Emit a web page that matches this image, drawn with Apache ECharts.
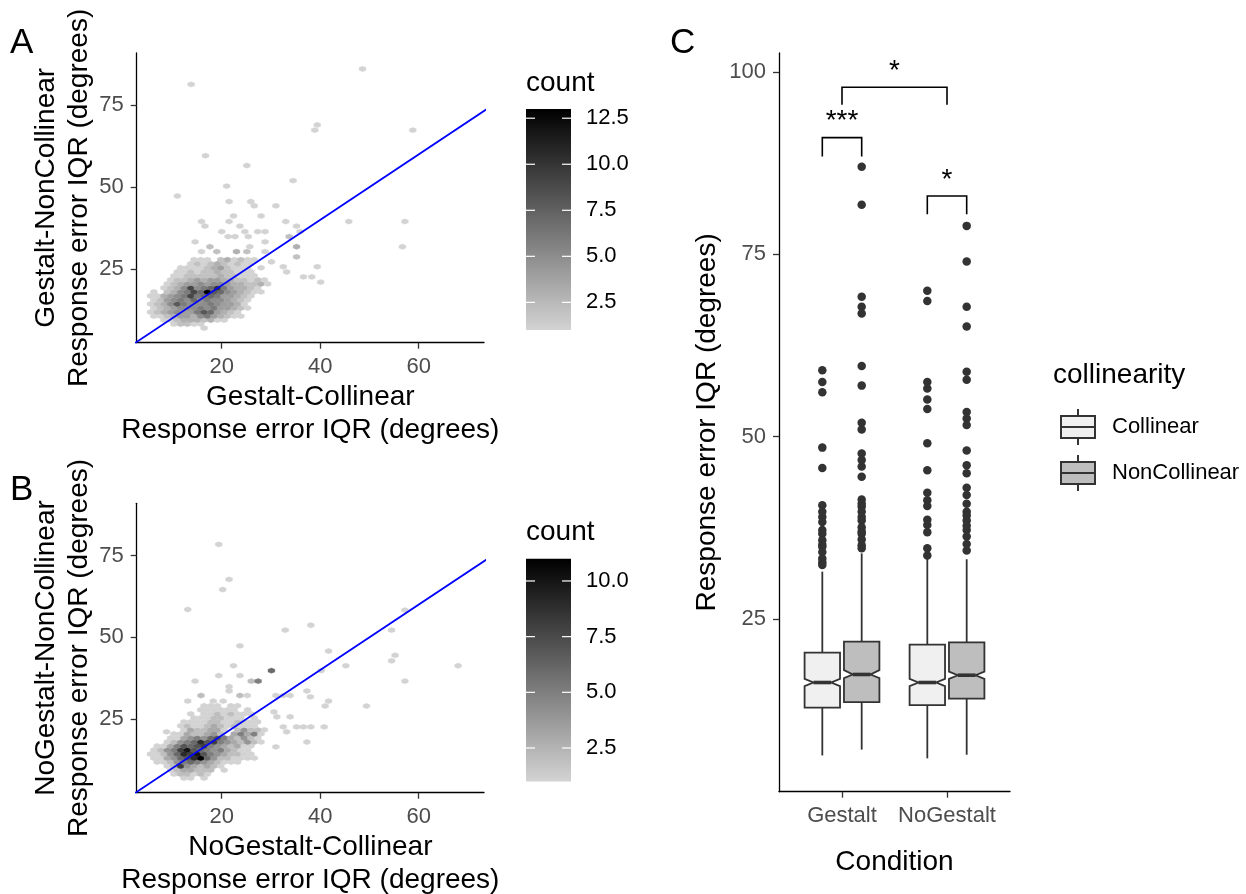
<!DOCTYPE html>
<html><head><meta charset="utf-8">
<script src="https://cdn.jsdelivr.net/npm/echarts@6/dist/echarts.min.js"></script>
<style>html,body{margin:0;padding:0;background:#fff}#c{width:1246px;height:894px}</style>
</head><body><div id="c"></div>
<script>
// ================= DATA =================
// hexbin geometry of the stat (data units)
const hexBinWidth = 1.38;
const hexRowStep = 1.23;

// Panel A: Gestalt-Collinear (x) vs Gestalt-NonCollinear (y)
const hexA_rowY = [6.93, 8.16, 9.39, 10.62, 11.85, 13.08, 14.31, 15.54, 16.77, 18.0, 19.23, 20.46, 21.69, 22.92, 24.15, 25.38, 26.61, 27.84];
const hexA_rowX0 = [16.42, 10.3, 8.26, 6.22, 5.54, 6.22, 5.54, 6.22, 5.54, 6.22, 8.26, 8.94, 9.62, 10.3, 10.98, 11.66, 13.7, 14.38];
const hexA_rowCounts = [
  [1],
  [1,2,2,1,1],
  [1,1,2,3,3,3,2,3,1,1],
  [1,1,2,3,4,4,3,5,6,4,3,2,1,1],
  [1,2,3,4,5,4,4,6,8,7,4,3,2,1],
  [1,2,3,4,5,5,5,6,5,6,4,4,3,2,1],
  [1,2,3,5,8,6,5,5,5,6,5,4,4,3,1],
  [1,2,4,5,6,5,7,5,6,5,5,4,3,2,1],
  [1,1,3,4,5,6,9,6,7,7,6,4,4,3,2,1],
  [1,0,2,3,5,6,9,7,13,8,7,5,4,3,2,1,1],
  [1,2,3,5,9,5,6,7,10,6,4,3,3,2,1],
  [1,2,3,4,4,5,4,5,5,4,3,3,2,2,3,1],
  [1,2,2,3,4,3,4,4,3,3,2,2,1,2,1],
  [1,1,2,2,2,2,2,3,2,2,1,1,1],
  [1,1,2,1,2,2,3,2,2,1,1,1],
  [1,1,1,1,2,3,4,2,1,1,1,0,1],
  [1,2,1,2,3,2,1,2,1,1],
  [1,1,1,0,2,3,1,2,1,1]
];
const hexA_single = [
  [13.8,81.4,1],[48.6,86.1,1],[38.9,67.4,1],[39.4,69.0,1],[58.8,67.4,1],[16.7,59.6,1],[25.1,56.6,1],
  [34.5,52.0,1],[21.0,50.3,1],[11.0,47.3,1],[21.5,45.6,1],[25.9,45.6,1],[26.6,44.3,1],[31.0,44.3,1],
  [22.4,41.2,1],[28.0,41.2,1],[15.9,39.5,1],[16.6,38.1,1],[21.5,39.5,1],[23.7,38.1,1],[33.0,39.5,1],
  [35.2,38.1,1],[45.8,39.5,1],[57.2,39.5,1],[20.0,36.4,1],[21.3,34.9,1],[22.7,34.9,1],[24.7,36.4,1],
  [25.4,34.9,1],[27.3,36.4,1],[28.8,36.4,1],[33.7,34.9,2],[35.9,36.4,1],[14.6,33.3,1],[28.8,33.3,1],
  [17.6,31.8,2],[19.0,30.3,2],[15.9,30.3,1],[23.0,30.3,3],[25.1,30.3,2],[25.7,31.8,1],[28.8,30.3,1],
  [35.2,31.8,3],[56.7,31.8,1],[35.2,28.7,2],[30.1,27.2,1],[32.5,25.7,1],[33.2,24.1,1],[36.6,22.6,1],
  [38.3,22.6,1],[39.4,25.7,1],[40.1,21.0,1]
];

// Panel B: NoGestalt-Collinear (x) vs NoGestalt-NonCollinear (y)
const hexB_rowY = [6.93, 8.16, 9.39, 10.62, 11.85, 13.08, 14.31, 15.54, 16.77, 18.0, 19.23, 20.46, 21.69, 22.92, 24.15, 25.38, 26.61, 27.84, 29.07];
const hexB_rowX0 = [12.34, 10.3, 9.62, 8.94, 6.9, 6.22, 5.54, 6.22, 6.9, 8.94, 9.62, 10.3, 12.34, 11.66, 12.34, 14.38, 13.7, 15.74, 16.42];
const hexB_rowCounts = [
  [1,1,0,1],
  [1,2,2,1,2,1],
  [1,2,3,3,2,2,2,0,1],
  [1,2,8,4,3,2,3,2,1],
  [1,1,2,4,5,6,5,4,3,2,1,1,1],
  [1,1,3,4,6,7,9,11,6,4,2,2,1,1,1,1],
  [1,1,2,4,6,9,8,10,7,5,4,3,2,2,1,1],
  [1,2,4,5,8,10,7,6,5,4,5,3,2,1,1],
  [1,1,3,5,7,6,7,8,5,4,3,2,3,1,1],
  [1,2,4,5,6,9,7,8,5,4,3,2,4,2,1],
  [1,1,3,4,5,4,6,7,5,3,2,4,2,1],
  [1,1,3,2,2,3,4,2,0,3,5,3,5,1],
  [1,3,2,2,3,3,1,0,2,4,2,2,1],
  [1,2,1,1,2,3,2,1,2,1,1,1],
  [1,1,1,1,2,2,1,1,2,1,1,1],
  [1,1,1,2,2,1,1,1,0,1],
  [1,0,1,1,2,1,2,1,1,1],
  [1,1,1,1,1,1,0,1],
  [1,1,1,0,1,1]
];
const hexB_single = [
  [19.4,78.4,1],[21.5,67.7,1],[20.2,64.6,1],[13.1,58.5,1],[57.2,58.3,1],[32.9,52.2,1],[38.1,53.7,1],
  [54.5,52.2,1],[23.7,47.4,1],[41.7,45.8,1],[55.2,44.5,1],[54.5,42.8,1],[68.0,41.3,1],[45.2,41.3,1],
  [57.2,36.6,1],[22.4,41.3,1],[19.4,38.3,1],[23.7,38.3,1],[30.1,39.8,6],[14.6,36.6,1],[21.5,34.9,1],
  [21.5,33.6,1],[26.0,36.6,2],[27.4,36.6,5],[40.2,39.8,1],[23.7,32.2,2],[25.2,32.2,1],[15.8,32.2,2],
  [13.1,30.5,1],[18.3,30.5,1],[20.3,30.5,1],[31.0,32.2,1],[32.5,32.2,1],[33.9,32.2,1],[37.3,33.6,1],
  [38.0,31.8,1],[41.7,30.5,1],[41.0,29.0,1],[49.4,29.0,1],[30.6,27.2,1],[31.2,25.7,1],[33.9,25.7,1],
  [32.5,22.6,1],[33.2,21.1,1],[35.2,22.6,1],[36.6,22.6,1],[38.1,22.6,1],[40.8,22.6,1],[37.3,18.0,1],
  [31.0,16.5,1],[8.8,21.1,1]
];

const scatterXTicks = [20, 40, 60];
const scatterYTicks = [25, 50, 75];
const identityLine = [0, 100];
const countRangeA = [1, 13];
const countRangeB = [1, 11];
const countTicksA = [2.5, 5, 7.5, 10, 12.5];
const countTicksB = [2.5, 5, 7.5, 10];

// Panel C: boxplots
const conditions = ['Gestalt', 'NoGestalt'];
const collinearity = ['Collinear', 'NonCollinear'];
// [lowerWhisker, Q1, median, Q3, upperWhisker, notchLow, notchHigh]
const boxCollinear = [
  [6.3, 12.85, 16.3, 20.4, 31.5, 15.8, 16.8],
  [5.9, 13.2, 16.3, 21.5, 33.3, 15.8, 16.8]
];
const boxNonCollinear = [
  [7.1, 13.6, 17.4, 21.9, 34.0, 16.9, 18.0],
  [6.4, 14.1, 17.3, 21.8, 33.2, 16.8, 17.8]
];
const outGestaltCollinear = [59.1, 57.5, 56.1, 48.5, 45.7, 40.6, 39.7, 39.0, 38.3, 37.2, 36.7, 35.8, 35.2, 34.9, 34.2, 33.3, 32.8, 32.4];
const outGestaltNonCollinear = [87.0, 81.8, 69.2, 67.8, 66.9, 59.7, 57.0, 51.9, 51.0, 47.7, 46.8, 45.9, 44.5, 41.4, 40.8, 40.4, 39.7, 39.0, 38.5, 37.6, 37.0, 36.7, 35.9, 35.1, 34.7];
const outNoGestaltCollinear = [70.0, 68.6, 57.5, 56.6, 55.1, 53.8, 49.1, 45.4, 42.3, 41.3, 40.5, 38.6, 37.9, 36.9, 34.7, 33.7];
const outNoGestaltNonCollinear = [78.9, 74.0, 67.8, 65.1, 58.9, 57.8, 53.4, 52.5, 51.6, 48.1, 46.1, 45.0, 43.0, 42.0, 40.8, 39.7, 39.2, 38.5, 37.8, 37.2, 36.3, 35.3, 34.4];
const boxYTicks = [25, 50, 75, 100];
// significance brackets
const sigX1 = [0.8125, 1.8125, 1];
const sigX2 = [1.1875, 2.1875, 2];
const sigY = [91.0, 83.0, 97.9];
const sigTickY = [88.4, 80.5, 95.5];
const sigLabel = ['***', '*', '*'];

// ================= BUILD =================
const FONT = '"Liberation Sans", Arial, Helvetica, sans-serif';
const LOW = '#d3d3d3', HIGH = '#000000';
const DODGE = 0.1875, BOX_HALF = 0.16875;
const FILL_C = '#f0f0f0', FILL_N = '#bebebe', INK = '#333333';

function buildHex(rowY, rowX0, rowCounts, singles) {
  const out = [];
  rowY.forEach((y, r) => rowCounts[r].forEach((c, i) => {
    if (c > 0) out.push([+(rowX0[r] + i * 1.36).toFixed(3), y, c]);
  }));
  singles.forEach(s => out.push(s));
  return out;
}
const hexA = buildHex(hexA_rowY, hexA_rowX0, hexA_rowCounts, hexA_single);
const hexB = buildHex(hexB_rowY, hexB_rowX0, hexB_rowCounts, hexB_single);

function hexRender(params, api) {
  const x = api.value(0), y = api.value(1);
  const hw = hexBinWidth / 2, dy = hexRowStep / 3;
  const pts = [[x + hw, y + dy], [x + hw, y - dy], [x, y - 2 * dy], [x - hw, y - dy], [x - hw, y + dy], [x, y + 2 * dy]].map(p => api.coord(p));
  const col = api.visual('color');
  return { type: 'polygon', shape: { points: pts }, style: { fill: col, stroke: col, lineWidth: 0.4 } };
}

function cbRender(range, ticks) {
  return function (params, api) {
    const p0 = api.coord([0, range[0]]), p1 = api.coord([1, range[1]]);
    const ch = [{
      type: 'rect', shape: { x: p0[0], y: p1[1], width: p1[0] - p0[0], height: p0[1] - p1[1] },
      style: { fill: new echarts.graphic.LinearGradient(0, 1, 0, 0, [{ offset: 0, color: LOW }, { offset: 1, color: HIGH }]) }
    }];
    ticks.forEach(t => {
      const a = api.coord([0, t]), b = api.coord([1, t]);
      const len = (b[0] - a[0]) / 5;
      ch.push({ type: 'line', shape: { x1: a[0], y1: a[1], x2: a[0] + len, y2: a[1] }, style: { stroke: '#fff', lineWidth: 1.2 } });
      ch.push({ type: 'line', shape: { x1: b[0] - len, y1: b[1], x2: b[0], y2: b[1] }, style: { stroke: '#fff', lineWidth: 1.2 } });
    });
    return { type: 'group', children: ch };
  };
}

function boxRender(offset) {
  return function (params, api) {
    const cat = api.value(0), lo = api.value(1), q1 = api.value(2), med = api.value(3),
      q3 = api.value(4), hi = api.value(5), nl = api.value(6), nh = api.value(7);
    const cx = cat + offset, hw = BOX_HALF, nw = hw * 0.5;
    const P = (x, y) => api.coord([x, y]);
    const fill = api.visual('color');
    const poly = [P(cx - hw, q3), P(cx + hw, q3), P(cx + hw, nh), P(cx + hw - nw, med), P(cx + hw, nl),
      P(cx + hw, q1), P(cx - hw, q1), P(cx - hw, nl), P(cx - hw + nw, med), P(cx - hw, nh)];
    const a = P(cx, hi), b = P(cx, q3), c = P(cx, q1), d = P(cx, lo);
    const m1 = P(cx - hw + nw, med), m2 = P(cx + hw - nw, med);
    return {
      type: 'group', children: [
        { type: 'line', shape: { x1: a[0], y1: a[1], x2: b[0], y2: b[1] }, style: { stroke: INK, lineWidth: 1.8 } },
        { type: 'line', shape: { x1: c[0], y1: c[1], x2: d[0], y2: d[1] }, style: { stroke: INK, lineWidth: 1.8 } },
        { type: 'polygon', shape: { points: poly }, style: { fill: fill, stroke: INK, lineWidth: 1.8, lineJoin: 'miter' } },
        { type: 'line', shape: { x1: m1[0], y1: m1[1], x2: m2[0], y2: m2[1] }, style: { stroke: INK, lineWidth: 3.6 } }
      ]
    };
  };
}

function sigRender(params, api) {
  const i = params.dataIndex;
  const P = (x, y) => api.coord([x, y]);
  const p1 = P(sigX1[i], sigTickY[i]), p2 = P(sigX1[i], sigY[i]), p3 = P(sigX2[i], sigY[i]), p4 = P(sigX2[i], sigTickY[i]);
  const mid = P((sigX1[i] + sigX2[i]) / 2, sigY[i]);
  return {
    type: 'group', children: [
      { type: 'polyline', shape: { points: [p1, p2, p3, p4] }, style: { stroke: '#000', lineWidth: 1.6, fill: null } },
      { type: 'text', x: mid[0], y: mid[1] - 16, style: { text: sigLabel[i], font: '28px ' + FONT, fill: '#000', align: 'center', verticalAlign: 'middle' } }
    ]
  };
}

const boxDataC = boxCollinear.map((s, i) => [i + 1].concat(s));
const boxDataN = boxNonCollinear.map((s, i) => [i + 1].concat(s));
const outC = outGestaltCollinear.map(v => [1 - DODGE, v]).concat(outNoGestaltCollinear.map(v => [2 - DODGE, v]));
const outN = outGestaltNonCollinear.map(v => [1 + DODGE, v]).concat(outNoGestaltNonCollinear.map(v => [2 + DODGE, v]));

const axisLineStyle = { lineStyle: { color: '#000', width: 1.3 } };
const tickStyle = (vals) => ({ show: true, customValues: vals, length: 6, lineStyle: { color: INK, width: 1.3 } });
const labelStyle = (vals, extra) => Object.assign({ customValues: vals, color: '#4d4d4d', fontSize: 22, fontFamily: FONT, margin: 13 }, extra || {});
const nameStyle = { fontSize: 28, color: '#000', fontFamily: FONT, lineHeight: 33 };

function scatterX(grid, name) {
  return { type: 'value', gridIndex: grid, min: 2.74, max: 73.26, axisLine: axisLineStyle, axisTick: tickStyle(scatterXTicks),
    axisLabel: labelStyle(scatterXTicks), splitLine: { show: false }, name: name, nameLocation: 'middle', nameGap: 38, nameTextStyle: nameStyle };
}
function scatterY(grid, name) {
  return { type: 'value', gridIndex: grid, min: 2.49, max: 90.97, axisLine: axisLineStyle, axisTick: tickStyle(scatterYTicks),
    axisLabel: labelStyle(scatterYTicks), splitLine: { show: false }, name: name, nameLocation: 'middle', nameGap: 41, nameTextStyle: nameStyle };
}
function cbX(grid) { return { type: 'value', gridIndex: grid, min: 0, max: 1, show: false }; }
function cbY(grid, range, ticks) {
  return { type: 'value', gridIndex: grid, min: range[0], max: range[1], position: 'right',
    axisLine: { show: false }, axisTick: { show: false }, splitLine: { show: false },
    axisLabel: { customValues: ticks, formatter: v => v.toFixed(1), color: '#000', fontSize: 22, fontFamily: FONT, margin: 15 } };
}

const option = {
  animation: false,
  backgroundColor: '#fff',
  textStyle: { fontFamily: FONT },
  grid: [
    { left: 136.7, top: 53, width: 347.3, height: 289.7, containLabel: false, outerBoundsMode: 'none' },
    { left: 526, top: 109, width: 45, height: 221, containLabel: false, outerBoundsMode: 'none' },
    { left: 136.7, top: 503.3, width: 347.3, height: 289.4, containLabel: false, outerBoundsMode: 'none' },
    { left: 526, top: 558.7, width: 45, height: 222.7, containLabel: false, outerBoundsMode: 'none' },
    { left: 779, top: 53, width: 231, height: 738.7, containLabel: false, outerBoundsMode: 'none' }
  ],
  xAxis: [
    scatterX(0, 'Gestalt-Collinear\nResponse error IQR (degrees)'),
    cbX(1),
    scatterX(2, 'NoGestalt-Collinear\nResponse error IQR (degrees)'),
    cbX(3),
    { type: 'value', gridIndex: 4, min: 0.4, max: 2.6, axisLine: axisLineStyle, axisTick: tickStyle([1, 2]),
      axisLabel: labelStyle([1, 2], { formatter: v => conditions[Math.round(v) - 1] }), splitLine: { show: false },
      name: 'Condition', nameLocation: 'middle', nameGap: 54, nameTextStyle: nameStyle }
  ],
  yAxis: [
    scatterY(0, 'Gestalt-NonCollinear\nResponse error IQR (degrees)'),
    cbY(1, countRangeA, countTicksA),
    scatterY(2, 'NoGestalt-NonCollinear\nResponse error IQR (degrees)'),
    cbY(3, countRangeB, countTicksB),
    { type: 'value', gridIndex: 4, min: 1.33, max: 102.6, axisLine: axisLineStyle, axisTick: tickStyle(boxYTicks),
      axisLabel: labelStyle(boxYTicks), splitLine: { show: false },
      name: 'Response error IQR (degrees)', nameLocation: 'middle', nameGap: 55, nameTextStyle: nameStyle }
  ],
  visualMap: [
    { type: 'continuous', show: false, seriesIndex: 0, dimension: 2, min: countRangeA[0], max: countRangeA[1], inRange: { color: [LOW, HIGH] } },
    { type: 'continuous', show: false, seriesIndex: 1, dimension: 2, min: countRangeB[0], max: countRangeB[1], inRange: { color: [LOW, HIGH] } }
  ],
  legend: {
    data: collinearity, orient: 'vertical', left: 1055, top: 403,
    itemWidth: 34, itemHeight: 36, itemGap: 8, selectedMode: false,
    icon: 'path://M17,0 L17,7 M0,7 L34,7 L34,29 L0,29 Z M0,18 L34,18 M17,29 L17,36',
    itemStyle: { borderColor: INK, borderWidth: 2 },
    textStyle: { fontSize: 22, color: '#000', fontFamily: FONT, padding: [0, 0, 0, 12] }
  },
  graphic: [
    { type: 'text', x: 10, y: 43, style: { text: 'A', font: '35px ' + FONT, fill: '#000', align: 'left', verticalAlign: 'middle' } },
    { type: 'text', x: 10, y: 490, style: { text: 'B', font: '35px ' + FONT, fill: '#000', align: 'left', verticalAlign: 'middle' } },
    { type: 'text', x: 670, y: 43, style: { text: 'C', font: '35px ' + FONT, fill: '#000', align: 'left', verticalAlign: 'middle' } },
    { type: 'text', x: 526, y: 83, style: { text: 'count', font: '28px ' + FONT, fill: '#000', align: 'left', verticalAlign: 'middle' } },
    { type: 'text', x: 526, y: 532, style: { text: 'count', font: '28px ' + FONT, fill: '#000', align: 'left', verticalAlign: 'middle' } },
    { type: 'text', x: 1053, y: 375, style: { text: 'collinearity', font: '28px ' + FONT, fill: '#000', align: 'left', verticalAlign: 'middle' } }
  ],
  series: [
    { type: 'custom', name: 'hexA', xAxisIndex: 0, yAxisIndex: 0, data: hexA, renderItem: hexRender, encode: { x: 0, y: 1 }, silent: true },
    { type: 'custom', name: 'hexB', xAxisIndex: 2, yAxisIndex: 2, data: hexB, renderItem: hexRender, encode: { x: 0, y: 1 }, silent: true },
    { type: 'line', name: 'idA', xAxisIndex: 0, yAxisIndex: 0, data: identityLine.map(v => [v, v]), symbol: 'none', clip: true,
      lineStyle: { color: '#0000ff', width: 1.8 }, silent: true },
    { type: 'line', name: 'idB', xAxisIndex: 2, yAxisIndex: 2, data: identityLine.map(v => [v, v]), symbol: 'none', clip: true,
      lineStyle: { color: '#0000ff', width: 1.8 }, silent: true },
    { type: 'custom', name: 'cbA', xAxisIndex: 1, yAxisIndex: 1, data: [[0, countRangeA[0]]], renderItem: cbRender(countRangeA, countTicksA), silent: true },
    { type: 'custom', name: 'cbB', xAxisIndex: 3, yAxisIndex: 3, data: [[0, countRangeB[0]]], renderItem: cbRender(countRangeB, countTicksB), silent: true },
    { type: 'custom', name: 'Collinear', xAxisIndex: 4, yAxisIndex: 4, data: boxDataC, renderItem: boxRender(-DODGE),
      itemStyle: { color: FILL_C, borderColor: INK }, encode: { x: 0, y: [1, 2, 3, 4, 5] }, silent: true },
    { type: 'custom', name: 'NonCollinear', xAxisIndex: 4, yAxisIndex: 4, data: boxDataN, renderItem: boxRender(DODGE),
      itemStyle: { color: FILL_N, borderColor: INK }, encode: { x: 0, y: [1, 2, 3, 4, 5] }, silent: true },
    { type: 'scatter', name: 'outC', xAxisIndex: 4, yAxisIndex: 4, data: outC, symbolSize: 8.5, itemStyle: { color: INK, opacity: 1 }, silent: true },
    { type: 'scatter', name: 'outN', xAxisIndex: 4, yAxisIndex: 4, data: outN, symbolSize: 8.5, itemStyle: { color: INK, opacity: 1 }, silent: true },
    { type: 'custom', name: 'sig', xAxisIndex: 4, yAxisIndex: 4, data: sigY.map((y, i) => [sigX1[i], y]), renderItem: sigRender, silent: true }
  ]
};

const chart = echarts.init(document.getElementById('c'), null, { renderer: 'canvas', width: 1246, height: 894 });
chart.setOption(option);
</script>
</body></html>
